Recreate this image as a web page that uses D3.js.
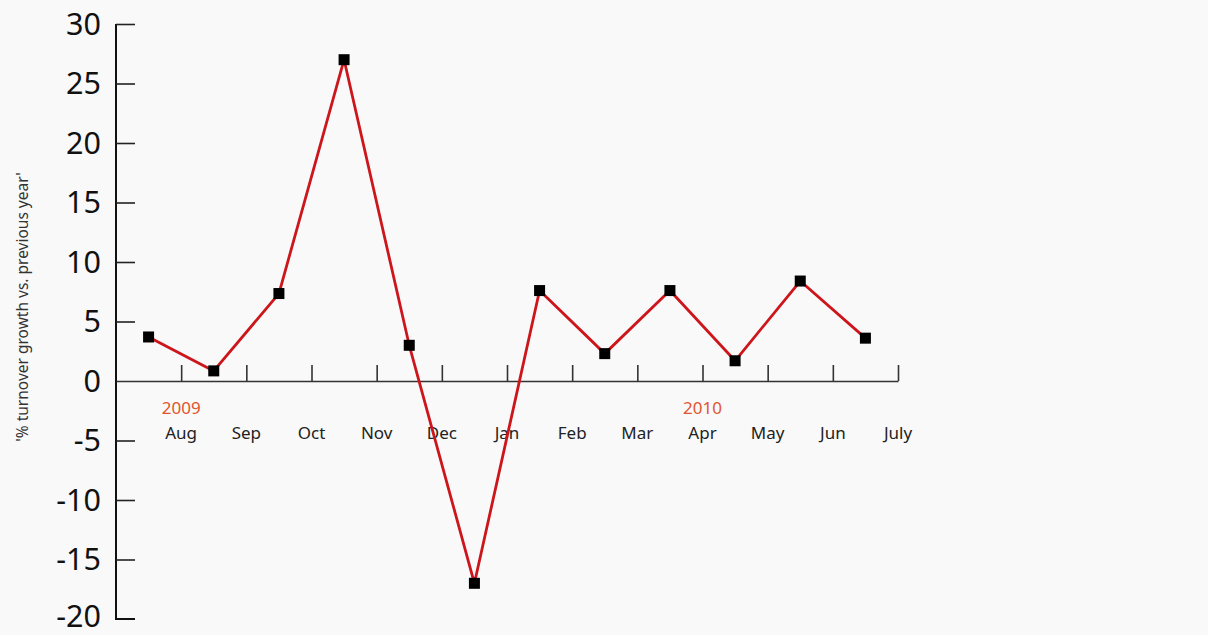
<!DOCTYPE html>
<html>
<head>
<meta charset="utf-8">
<script src="https://cdn.jsdelivr.net/npm/d3@7"></script>
<style>
  html, body { margin: 0; padding: 0; background: #f9f9f9; }
  svg { display: block; }
</style>
</head>
<body>
<svg id="chart" width="1208" height="635"></svg>
<script>
// ---- data ----
const monthLabels = ["Aug", "Sep", "Oct", "Nov", "Dec", "Jan", "Feb", "Mar", "Apr", "May", "Jun", "July"];
const yearLabels = [{ year: "2009", at: 0 }, { year: "2010", at: 8 }];
const growthValues = [3.7, 0.85, 7.35, 27.0, 3.0, -17.0, 7.6, 2.3, 7.6, 1.7, 8.4, 3.6];
const yTickValues = [30, 25, 20, 15, 10, 5, 0, -5, -10, -15, -20];
const yAxisTitle = "'% turnover growth vs. previous year'";

// ---- layout ----
const svg = d3.select("#chart");
const x = d3.scaleLinear().domain([0, 12]).range([116, 898]);
const y = d3.scaleLinear().domain([-20, 30]).range([619, 24]);

// y axis
const yAxis = d3.axisRight(y).tickValues(yTickValues).tickSize(19).tickFormat("");
const gy = svg.append("g").attr("transform", `translate(${x(0)},0)`).call(yAxis);
gy.select(".domain").attr("stroke", "#111").attr("stroke-width", 2).attr("d", `M0,${y(30)}V${y(-20)}H19`);
gy.selectAll(".tick line").attr("stroke", "#222").attr("stroke-width", 1.6);
gy.selectAll(".tick").filter(d => d === 0).remove();
gy.selectAll(".tick").filter(d => d === -20).remove();

svg.append("g").selectAll("text").data(yTickValues).join("text")
  .attr("x", 101).attr("y", d => Math.min(y(d), 616))
  .attr("dy", "0.36em")
  .attr("text-anchor", "end")
  .attr("font-family", "'Noto Sans', sans-serif")
  .attr("font-size", 30.5)
  .attr("fill", "#111")
  .text(d => d);

// x axis (zero line) with upward ticks
const xAxis = d3.axisTop(x).tickValues(d3.range(1, 13)).tickSize(16).tickSizeOuter(0).tickFormat("");
const gx = svg.append("g").attr("transform", `translate(0,${y(0)})`).call(xAxis);
gx.select(".domain").attr("stroke", "#333").attr("stroke-width", 1.6);
gx.selectAll(".tick line").attr("stroke", "#333").attr("stroke-width", 1.6);

// month labels
svg.append("g").selectAll("text").data(monthLabels).join("text")
  .attr("x", (d, i) => x(i + 1))
  .attr("y", 439)
  .attr("text-anchor", "middle")
  .attr("font-family", "'Noto Sans', sans-serif")
  .attr("font-size", 17)
  .attr("fill", "#222")
  .text(d => d);

// year labels
svg.append("g").selectAll("text").data(yearLabels).join("text")
  .attr("x", d => x(d.at + 1))
  .attr("y", 414)
  .attr("text-anchor", "middle")
  .attr("font-family", "'Noto Sans', sans-serif")
  .attr("font-size", 17)
  .attr("fill", "#e2542e")
  .text(d => d.year);

// y axis title
svg.append("text")
  .attr("transform", `translate(28,307) rotate(-90)`)
  .attr("text-anchor", "middle")
  .attr("font-family", "'Noto Sans', sans-serif")
  .attr("font-size", 15.5)
  .attr("fill", "#333")
  .text(yAxisTitle);

// line
const line = d3.line().x((d, i) => x(i + 0.5)).y(d => y(d));
svg.append("path").datum(growthValues)
  .attr("d", line)
  .attr("fill", "none")
  .attr("stroke", "#cc161c")
  .attr("stroke-width", 2.8)
  .attr("stroke-linejoin", "round");

// markers
svg.append("g").selectAll("rect").data(growthValues).join("rect")
  .attr("x", (d, i) => x(i + 0.5) - 5.5)
  .attr("y", d => y(d) - 5.5)
  .attr("width", 11).attr("height", 11)
  .attr("fill", "#000");
</script>
</body>
</html>
